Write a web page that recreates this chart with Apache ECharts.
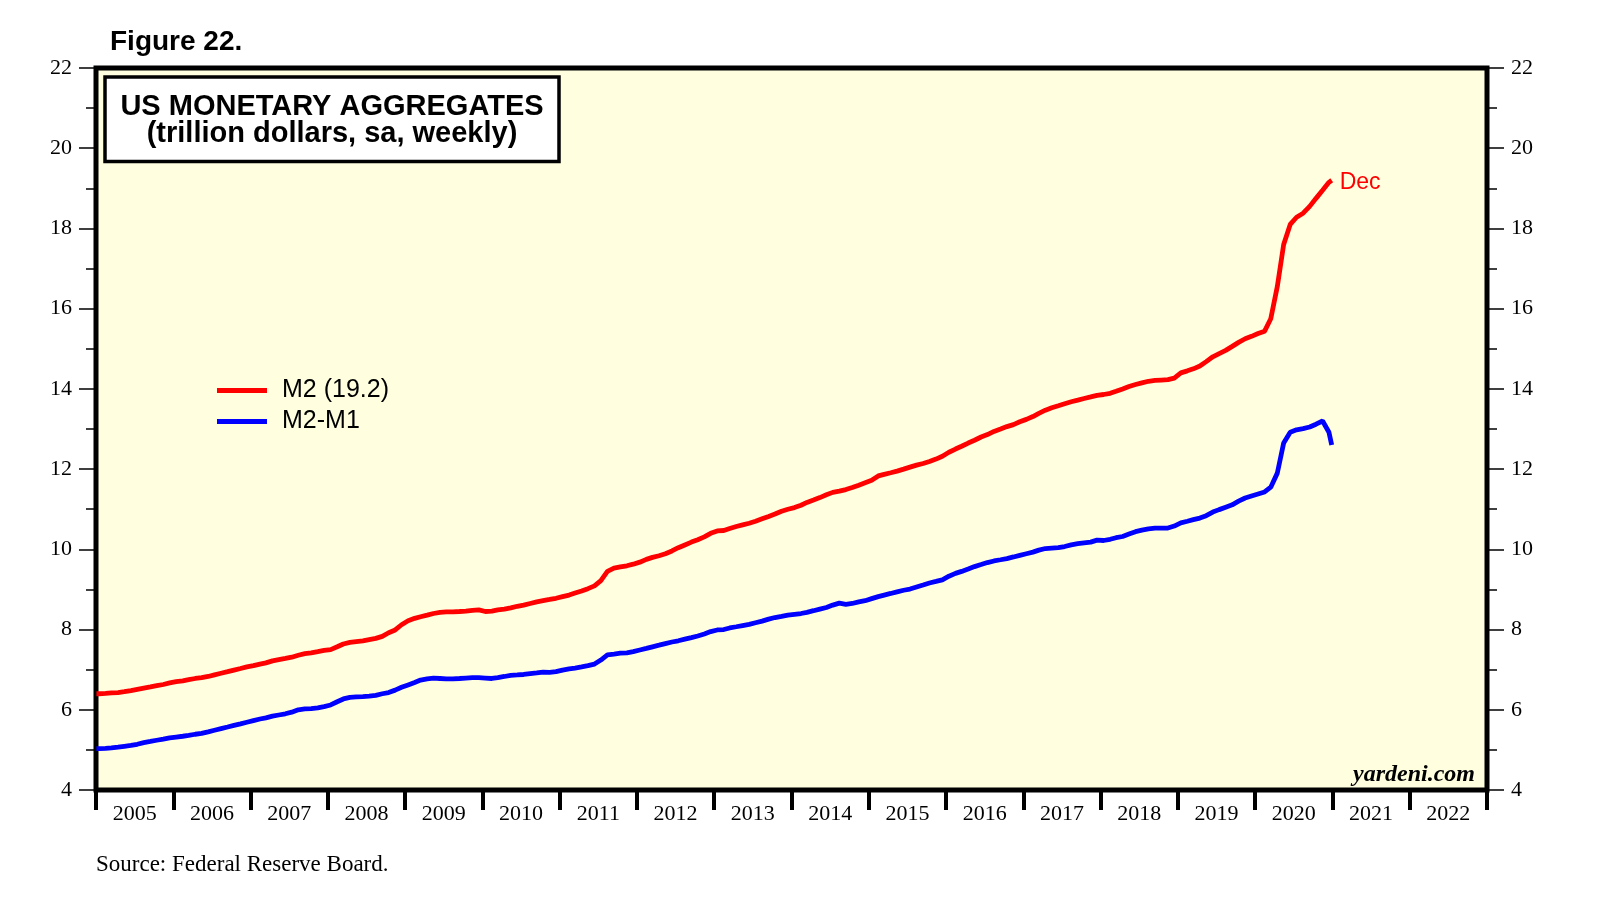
<!DOCTYPE html>
<html><head><meta charset="utf-8">
<script src="https://cdn.jsdelivr.net/npm/echarts@6/dist/echarts.min.js"></script>
<style>html,body{margin:0;padding:0;background:#fff}#c{width:1610px;height:910px}</style>
</head><body><div id="c"></div>
<script>
// Year labels on the x axis (one category per year)
const yearLabels = ['2005','2006','2007','2008','2009','2010','2011','2012','2013','2014','2015','2016','2017','2018','2019','2020','2021','2022'];
const startYear = 2005;
// M2, trillion dollars, monthly readings (12 per row, 2005..2020)
const m2 = [
  6.40, 6.41, 6.42, 6.43, 6.45, 6.48, 6.51, 6.54, 6.57, 6.60, 6.63, 6.67,
  6.70, 6.72, 6.75, 6.78, 6.80, 6.83, 6.87, 6.91, 6.95, 6.99, 7.03, 7.07,
  7.10, 7.14, 7.17, 7.22, 7.25, 7.28, 7.31, 7.36, 7.40, 7.42, 7.45, 7.48,
  7.50, 7.57, 7.64, 7.68, 7.70, 7.72, 7.75, 7.78, 7.83, 7.92, 7.99, 8.12,
  8.22, 8.28, 8.32, 8.36, 8.40, 8.43, 8.44, 8.44, 8.45, 8.46, 8.48, 8.49,
  8.45, 8.46, 8.49, 8.51, 8.54, 8.58, 8.61, 8.65, 8.69, 8.72, 8.75, 8.78,
  8.82, 8.86, 8.91, 8.96, 9.02, 9.09, 9.22, 9.45, 9.53, 9.56, 9.59, 9.63,
  9.68, 9.75, 9.80, 9.84, 9.89, 9.96, 10.04, 10.11, 10.18, 10.24, 10.31, 10.40,
  10.46, 10.47, 10.52, 10.57, 10.61, 10.65, 10.70, 10.76, 10.82, 10.88, 10.95, 11.00,
  11.04, 11.10, 11.17, 11.23, 11.29, 11.36, 11.42, 11.45, 11.49, 11.54, 11.60, 11.66,
  11.72, 11.83, 11.87, 11.91, 11.95, 12.00, 12.05, 12.10, 12.14, 12.19, 12.25, 12.32,
  12.42, 12.50, 12.57, 12.65, 12.72, 12.80, 12.86, 12.94, 13.00, 13.06, 13.11, 13.18,
  13.24, 13.31, 13.39, 13.47, 13.53, 13.58, 13.63, 13.68, 13.72, 13.76, 13.80, 13.84,
  13.86, 13.89, 13.94, 14.00, 14.06, 14.11, 14.15, 14.19, 14.21, 14.22, 14.23, 14.27,
  14.40, 14.45, 14.50, 14.57, 14.68, 14.80, 14.88, 14.96, 15.06, 15.16, 15.25, 15.31,
  15.38, 15.44, 15.75, 16.55, 17.60, 18.10, 18.28, 18.38, 18.55, 18.75, 18.95, 19.15
];
// M2 minus M1, trillion dollars, monthly readings
const m2m1 = [
  5.03, 5.04, 5.05, 5.07, 5.09, 5.11, 5.14, 5.18, 5.21, 5.24, 5.27, 5.30,
  5.32, 5.34, 5.36, 5.39, 5.41, 5.45, 5.49, 5.53, 5.57, 5.61, 5.65, 5.69,
  5.73, 5.77, 5.80, 5.84, 5.87, 5.90, 5.94, 6.00, 6.02, 6.03, 6.05, 6.08,
  6.12, 6.20, 6.27, 6.31, 6.32, 6.33, 6.34, 6.36, 6.40, 6.43, 6.49, 6.56,
  6.62, 6.68, 6.74, 6.77, 6.79, 6.78, 6.77, 6.77, 6.78, 6.79, 6.80, 6.80,
  6.79, 6.78, 6.80, 6.83, 6.86, 6.87, 6.88, 6.90, 6.92, 6.94, 6.93, 6.95,
  6.99, 7.02, 7.04, 7.07, 7.10, 7.14, 7.24, 7.37, 7.39, 7.41, 7.42, 7.45,
  7.49, 7.53, 7.57, 7.61, 7.65, 7.69, 7.72, 7.76, 7.80, 7.84, 7.89, 7.95,
  7.99, 8.00, 8.04, 8.07, 8.10, 8.13, 8.17, 8.21, 8.26, 8.30, 8.33, 8.36,
  8.38, 8.40, 8.43, 8.47, 8.51, 8.55, 8.61, 8.66, 8.63, 8.65, 8.69, 8.72,
  8.77, 8.82, 8.86, 8.90, 8.94, 8.98, 9.01, 9.06, 9.11, 9.16, 9.20, 9.24,
  9.33, 9.40, 9.45, 9.51, 9.57, 9.62, 9.67, 9.71, 9.74, 9.77, 9.81, 9.85,
  9.89, 9.93, 9.98, 10.02, 10.03, 10.04, 10.07, 10.11, 10.14, 10.16, 10.18, 10.23,
  10.22, 10.25, 10.29, 10.32, 10.38, 10.44, 10.48, 10.51, 10.53, 10.53, 10.53, 10.58,
  10.66, 10.70, 10.74, 10.78, 10.84, 10.93, 10.99, 11.05, 11.11, 11.20, 11.28, 11.33,
  11.38, 11.43, 11.55, 11.90, 12.65, 12.92, 12.98, 13.01, 13.05, 13.12, 13.20, 12.92
];
// first and last weekly observations: [date, M2, M2-M1]
const firstWeek = ['2005-01-03', 6.40, 5.03];
const lastWeek = ['2020-12-28', 19.20, 12.60];

function pad(n){ return (n < 10 ? '0' : '') + n; }
const dates = m2.map((_, i) => (startYear + Math.floor(i / 12)) + '-' + pad(i % 12 + 1) + '-15');
function build(vals, k){
  const d = [[firstWeek[0], firstWeek[k]]];
  vals.forEach((v, i) => d.push([dates[i], v]));
  d.push([lastWeek[0], lastWeek[k]]);
  return d;
}

const chart = echarts.init(document.getElementById('c'), null, {renderer: 'canvas'});
const serif = 'Liberation Serif';
const sans = 'Liberation Sans';
const yAxisBase = {
  type: 'value', min: 4, max: 22, interval: 2,
  axisLine: {show: false},
  axisTick: {show: true, length: 17, lineStyle: {color: '#000', width: 1.5}},
  minorTick: {show: true, splitNumber: 2, length: 10, lineStyle: {color: '#000', width: 1.5}},
  axisLabel: {margin: 24, fontFamily: serif, fontSize: 22, color: '#000'},
  splitLine: {show: false}, minorSplitLine: {show: false}
};
chart.setOption({
  animation: false,
  backgroundColor: '#ffffff',
  grid: {left: 96, right: 123, top: 68, bottom: 120, show: true, backgroundColor: '#FFFFE0', borderColor: '#000', borderWidth: 5, z: 0},
  xAxis: [
    {type: 'category', data: yearLabels, boundaryGap: true, position: 'bottom',
     axisLine: {show: false},
     axisTick: {show: true, interval: 0, length: 20, lineStyle: {color: '#000', width: 4}},
     axisLabel: {interval: 0, margin: 13, fontFamily: serif, fontSize: 22, color: '#000'},
     splitLine: {show: false}},
    {type: 'time', min: '2005-01-01', max: '2023-01-01', show: false}
  ],
  yAxis: [
    Object.assign({}, yAxisBase, {position: 'left'}),
    Object.assign({}, yAxisBase, {position: 'right'})
  ],
  legend: {
    orient: 'vertical', left: 212, top: 373, itemWidth: 50, itemHeight: 5, itemGap: 6,
    icon: 'rect', selectedMode: false,
    textStyle: {fontFamily: sans, fontSize: 25, color: '#000', lineHeight: 25, padding: [0, 0, 0, 10]},
    data: ['M2 (19.2)', 'M2-M1']
  },
  series: [
    {name: 'M2 (19.2)', type: 'line', xAxisIndex: 1, yAxisIndex: 0, data: build(m2, 1),
     showSymbol: false, symbol: 'none', color: '#FF0000',
     lineStyle: {color: '#FF0000', width: 4.8}, itemStyle: {color: '#FF0000'},
     endLabel: {show: true, formatter: 'Dec', color: '#FF0000', fontSize: 23, fontFamily: sans, distance: 8, offset: [0, 2]},
     emphasis: {disabled: true}, z: 3},
    {name: 'M2-M1', type: 'line', xAxisIndex: 1, yAxisIndex: 0, data: build(m2m1, 2),
     showSymbol: false, symbol: 'none', color: '#0000FF',
     lineStyle: {color: '#0000FF', width: 4.8}, itemStyle: {color: '#0000FF'},
     emphasis: {disabled: true}, z: 3}
  ],
  graphic: [
    {type: 'text', x: 110, y: 42, z: 100, style: {text: 'Figure 22.', font: 'bold 28px "Liberation Sans"', fill: '#000', align: 'left', verticalAlign: 'middle'}},
    {type: 'rect', z: 100, shape: {x: 105, y: 77, width: 454, height: 84.5}, style: {fill: '#fff', stroke: '#000', lineWidth: 3.5}},
    {type: 'text', x: 332, y: 106.5, z: 101, style: {text: 'US MONETARY AGGREGATES', font: 'bold 29px "Liberation Sans"', fill: '#000', align: 'center', verticalAlign: 'middle'}},
    {type: 'text', x: 332, y: 134, z: 101, style: {text: '(trillion dollars, sa, weekly)', font: 'bold 29px "Liberation Sans"', fill: '#000', align: 'center', verticalAlign: 'middle'}},
    {type: 'text', x: 1475, y: 775, z: 100, style: {text: 'yardeni.com', font: 'italic bold 24px "Liberation Serif"', fill: '#000', align: 'right', verticalAlign: 'middle'}},
    {type: 'text', x: 96, y: 865, z: 100, style: {text: 'Source: Federal Reserve Board.', font: '23px "Liberation Serif"', fill: '#000', align: 'left', verticalAlign: 'middle'}}
  ]
});
</script></body></html>
